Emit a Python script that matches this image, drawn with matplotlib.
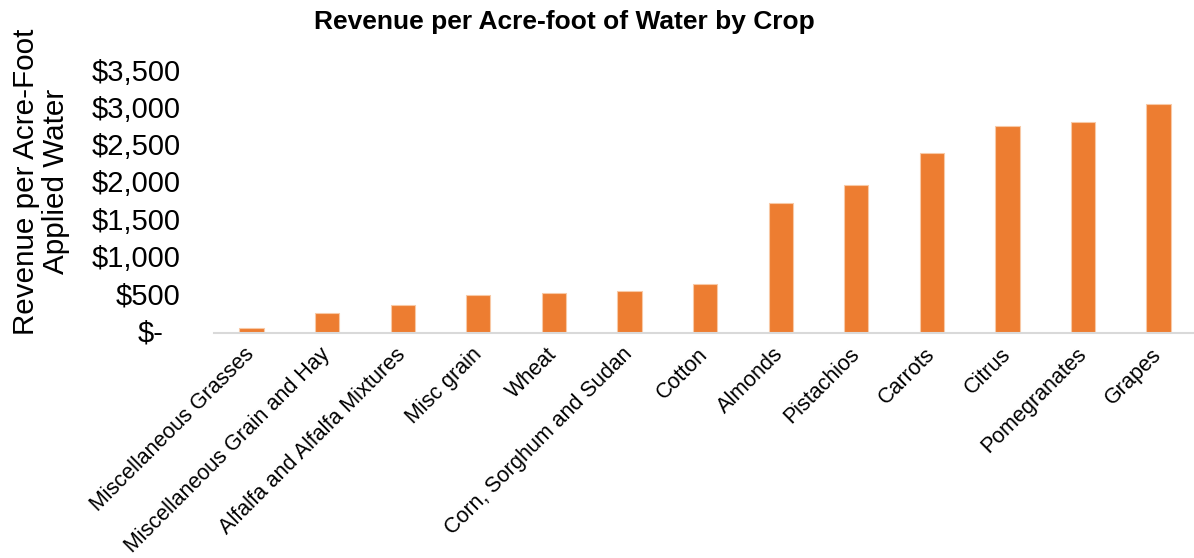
import matplotlib
matplotlib.use('Agg')
import matplotlib.pyplot as plt
import matplotlib.transforms as mtransforms
import numpy as np

plt.rcParams['font.family'] = ['Liberation Sans', 'DejaVu Sans']

crops = ['Miscellaneous Grasses', 'Miscellaneous Grain and Hay',
         'Alfalfa and Alfalfa Mixtures', 'Misc grain', 'Wheat',
         'Corn, Sorghum and Sudan', 'Cotton', 'Almonds', 'Pistachios',
         'Carrots', 'Citrus', 'Pomegranates', 'Grapes']
revenue = [75, 270, 380, 510, 537, 564, 658, 1746, 1992, 2421, 2788, 2842, 3080]
yticks = [0, 500, 1000, 1500, 2000, 2500, 3000, 3500]


def money(v):
    if v == 0:
        return '$-'
    return f'${v:,.0f}'


fig = plt.figure(figsize=(11.94, 5.58), dpi=100)
ax = fig.add_axes([0.179, 0.4027, 0.823, 0.467])

x = np.arange(len(crops))
ax.bar(x, revenue, width=0.32, color='#ED7D31', edgecolor='#f8c9a6', linewidth=0.8)

ax.set_xlim(-0.5, len(crops) - 0.5)
ax.set_ylim(0, 3500)
ax.set_yticks(yticks)
ax.set_yticklabels([])
ax.tick_params(axis='y', length=0)

# y labels drawn by hand so "$-" can sit a bit further left (accounting style)
trans = mtransforms.blended_transform_factory(ax.transAxes, ax.transData)
for v in yticks:
    off = -0.017 if v == 0 else 0
    ax.text(-0.034 + off, v, money(v), transform=trans, ha='right', va='center',
            fontsize=21)

ax.set_xticks(x)
ax.set_xticklabels(crops, rotation=45, ha='right', va='center',
                   rotation_mode='anchor', fontsize=15.5)
ax.tick_params(axis='x', length=0, pad=13)

for side in ['top', 'right', 'left']:
    ax.spines[side].set_visible(False)
ax.spines['bottom'].set_color('#d9d9d9')
ax.spines['bottom'].set_linewidth(1.5)

fig.text(0.0345, 0.675, 'Revenue per Acre-Foot\nApplied Water', rotation=90,
         ha='center', va='center', fontsize=21.3, linespacing=1.1,
         multialignment='center')
fig.text(0.473, 0.96, 'Revenue per Acre-foot of Water by Crop', ha='center',
         va='center', fontsize=19, fontweight='bold')

fig.savefig('out.png', dpi=100)
